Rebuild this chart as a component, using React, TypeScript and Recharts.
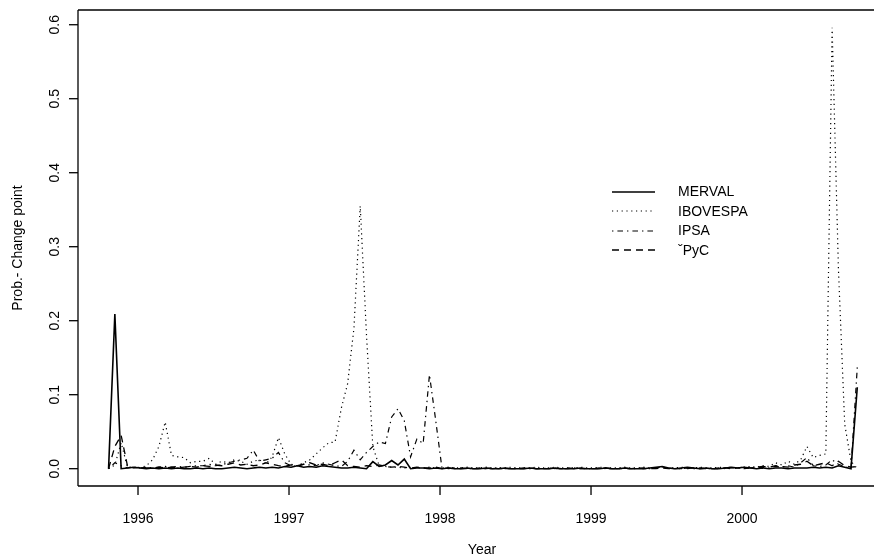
import { LineChart, Line, XAxis, YAxis, ReferenceLine, Legend } from 'recharts';

// time grid: semi-monthly observations starting late 1995
const START = 1995.805;
const STEP = 1 / 24;

const yearTicks = [1996, 1997, 1998, 1999, 2000];
const probTicks = [0, 0.1, 0.2, 0.3, 0.4, 0.5, 0.6];

const merval = [
  0, 0.209, 0, 0.001, 0.002, 0.001, 0, 0.001, 0, 0.001,
  0, 0.001, 0, 0, 0.001, 0, 0.001, 0, 0, 0.001,
  0.002, 0.001, 0, 0.001, 0.002, 0.001, 0.002, 0.001, 0.003, 0.002,
  0.004, 0.002, 0.003, 0.002, 0.004, 0.003, 0.002, 0.001, 0.001, 0.002,
  0.001, 0, 0.0095, 0.003, 0.005, 0.011, 0.005, 0.013, 0, 0.001,
  0.001, 0, 0.001, 0, 0.001, 0, 0, 0.001, 0, 0,
  0.001, 0, 0, 0.001, 0, 0, 0, 0.001, 0, 0,
  0, 0.001, 0, 0, 0, 0.001, 0, 0, 0, 0.001,
  0, 0, 0.001, 0, 0, 0, 0.001, 0.002, 0.003, 0.001,
  0, 0.001, 0.002, 0.001, 0, 0.001, 0, 0, 0.001, 0.002,
  0.001, 0.002, 0.001, 0, 0.001, 0, 0.001, 0.001, 0, 0.001,
  0.001, 0.001, 0.002, 0.001, 0.002, 0.001, 0.004, 0.002, 0, 0.11,
];

const ibovespa = [
  0, 0.005, 0.035, 0.002, 0.002, 0.001, 0.004, 0.012, 0.03, 0.063,
  0.018, 0.016, 0.015, 0.008, 0.01, 0.01, 0.014, 0.006, 0.01, 0.008,
  0.012, 0.01, 0.006, 0.01, 0.012, 0.006, 0.016, 0.042, 0.02, 0.006,
  0.004, 0.008, 0.012, 0.02, 0.028, 0.035, 0.036, 0.082, 0.115, 0.19,
  0.355, 0.18, 0.03, 0.004, 0.003, 0.002, 0.002, 0.001, 0.002, 0.001,
  0.001, 0.002, 0.001, 0.001, 0.002, 0.001, 0.001, 0.002, 0.001, 0.001,
  0.002, 0.001, 0.001, 0.001, 0.002, 0.001, 0.001, 0.001, 0.002, 0.001,
  0.001, 0.002, 0.001, 0.001, 0.001, 0.002, 0.001, 0.001, 0.002, 0.001,
  0.001, 0.001, 0.002, 0.001, 0.001, 0.002, 0.001, 0.001, 0.002, 0.001,
  0.001, 0.002, 0.001, 0.001, 0.002, 0.001, 0.001, 0.002, 0.001, 0.002,
  0.001, 0.002, 0.003, 0.002, 0.004, 0.003, 0.008, 0.005, 0.01, 0.006,
  0.012, 0.03, 0.015, 0.018, 0.02, 0.596, 0.27, 0.06, 0.01, 0,
];

const ipsa = [
  0, 0.008, 0.004, 0.001, 0.002, 0.001, 0.002, 0.001, 0.002, 0.003,
  0.002, 0.003, 0.002, 0.003, 0.004, 0.004, 0.006, 0.004, 0.005, 0.008,
  0.01, 0.012, 0.014, 0.025, 0.01, 0.012, 0.014, 0.022, 0.008, 0.004,
  0.003, 0.006, 0.005, 0.004, 0.008, 0.006, 0.004, 0.003, 0.01, 0.025,
  0.012, 0.022, 0.03, 0.036, 0.034, 0.07, 0.081, 0.065, 0.016, 0.04,
  0.034, 0.127, 0.065, 0, 0.001, 0, 0.001, 0, 0, 0.001,
  0, 0, 0.001, 0, 0, 0, 0.001, 0, 0, 0,
  0.001, 0, 0, 0, 0.001, 0, 0, 0, 0.001, 0,
  0, 0, 0.001, 0, 0, 0.001, 0, 0.001, 0.002, 0.001,
  0, 0, 0.001, 0, 0.001, 0, 0, 0.001, 0, 0.001,
  0.001, 0, 0.001, 0.001, 0.002, 0.001, 0.003, 0.002, 0.004, 0.002,
  0.008, 0.015, 0.004, 0.003, 0.005, 0.012, 0.006, 0.003, 0, 0.137,
];

const pyc = [
  0, 0.03, 0.045, 0.004, 0.001, 0.002, 0.001, 0.001, 0.002, 0.001,
  0.002, 0.001, 0.002, 0.003, 0.002, 0.004, 0.003, 0.005, 0.004, 0.006,
  0.008, 0.005, 0.006, 0.004, 0.005, 0.008, 0.006, 0.004, 0.003, 0.005,
  0.004, 0.006, 0.008, 0.005, 0.006, 0.004, 0.008, 0.012, 0.004, 0.003,
  0.002, 0.004, 0.003, 0.005, 0.003, 0.002, 0.003, 0.002, 0.001, 0.002,
  0.001, 0.001, 0.002, 0, 0, 0.001, 0, 0, 0, 0,
  0, 0.001, 0, 0, 0, 0, 0, 0.001, 0, 0,
  0, 0, 0, 0.001, 0, 0, 0, 0, 0, 0.001,
  0, 0, 0, 0, 0.001, 0, 0, 0, 0.001, 0,
  0, 0, 0, 0.001, 0, 0, 0, 0, 0.001, 0,
  0.001, 0.002, 0.001, 0.002, 0.003, 0.002, 0.004, 0.003, 0.002, 0.005,
  0.006, 0.01, 0.004, 0.006, 0.008, 0.004, 0.01, 0.004, 0.002, 0.003,
];

const data = merval.map((v, i) => ({
  t: START + i * STEP,
  merval: v,
  ibovespa: ibovespa[i],
  ipsa: ipsa[i],
  pyc: pyc[i],
}));

const series = [
  { key: 'merval', name: 'MERVAL', dash: undefined, width: 1.6 },
  { key: 'ibovespa', name: 'IBOVESPA', dash: '1.2 3.6', width: 1.2 },
  { key: 'ipsa', name: 'IPSA', dash: '1.4 4 5.6 4', width: 1.2 },
  { key: 'pyc', name: '\u02c7PyC', dash: '7 5', width: 1.3 },
];

const FONT = '"Liberation Sans", Arial, sans-serif';
const X_MIN = 1995.6026;
const X_MAX = 2000.874;
const Y_MIN = -0.0234;
const Y_MAX = 0.6199;

const XTick = ({ x, payload }: any) => (
  <text x={x} y={523} textAnchor="middle" fontSize={14} fontFamily={FONT} fill="#000">
    {payload.value}
  </text>
);

const YTick = ({ y, payload }: any) => (
  <text
    x={59}
    y={y}
    textAnchor="middle"
    fontSize={14}
    fontFamily={FONT}
    fill="#000"
    transform={`rotate(-90, 59, ${y})`}
  >
    {Number(payload.value).toFixed(1)}
  </text>
);

const renderLegend = () => (
  <div style={{ fontFamily: FONT, fontSize: 14, color: '#000' }}>
    {series.map((s) => (
      <div key={s.key} style={{ display: 'flex', alignItems: 'center', height: 19.5 }}>
        <svg width={44} height={6} style={{ display: 'block' }}>
          <line x1={0} y1={3} x2={43} y2={3} stroke="#000" strokeWidth={s.width} strokeDasharray={s.dash} />
        </svg>
        <span style={{ marginLeft: 22, lineHeight: '19.5px' }}>{s.name}</span>
      </div>
    ))}
  </div>
);

export default function App() {
  return (
    <div style={{ position: 'fixed', left: 0, top: 0 }}>
      <LineChart width={874} height={558} data={data} margin={{ top: 10, right: 0, bottom: 0, left: 0 }}>
        <XAxis
          dataKey="t"
          type="number"
          domain={[X_MIN, X_MAX]}
          allowDataOverflow
          ticks={yearTicks}
          tick={<XTick />}
          tickSize={9}
          height={72}
          axisLine={{ stroke: '#000', strokeWidth: 1.3 }}
          tickLine={{ stroke: '#000', strokeWidth: 1.3 }}
          label={({ viewBox }: any) => (
            <text x={482} y={554} textAnchor="middle" fontSize={14} fontFamily={FONT} fill="#000">
              Year
            </text>
          )}
        />
        <YAxis
          type="number"
          domain={[Y_MIN, Y_MAX]}
          allowDataOverflow
          ticks={probTicks}
          tick={<YTick />}
          tickSize={9}
          width={78}
          axisLine={{ stroke: '#000', strokeWidth: 1.3 }}
          tickLine={{ stroke: '#000', strokeWidth: 1.3 }}
          label={() => (
            <text
              x={22}
              y={248}
              textAnchor="middle"
              fontSize={14}
              fontFamily={FONT}
              fill="#000"
              transform="rotate(-90, 22, 248)"
            >
              Prob.- Change point
            </text>
          )}
        />
        <ReferenceLine y={Y_MAX} stroke="#000" strokeWidth={1.3} />
        <Legend
          content={renderLegend}
          layout="horizontal"
          verticalAlign="middle"
          align="center"
          wrapperStyle={{ position: 'absolute', left: 612, top: 182, width: 200 }}
        />
        {series.map((s) => (
          <Line
            key={s.key}
            type="linear"
            dataKey={s.key}
            name={s.name}
            stroke="#000"
            strokeWidth={s.width}
            strokeDasharray={s.dash}
            dot={false}
            activeDot={false}
            isAnimationActive={false}
          />
        ))}
      </LineChart>
    </div>
  );
}
